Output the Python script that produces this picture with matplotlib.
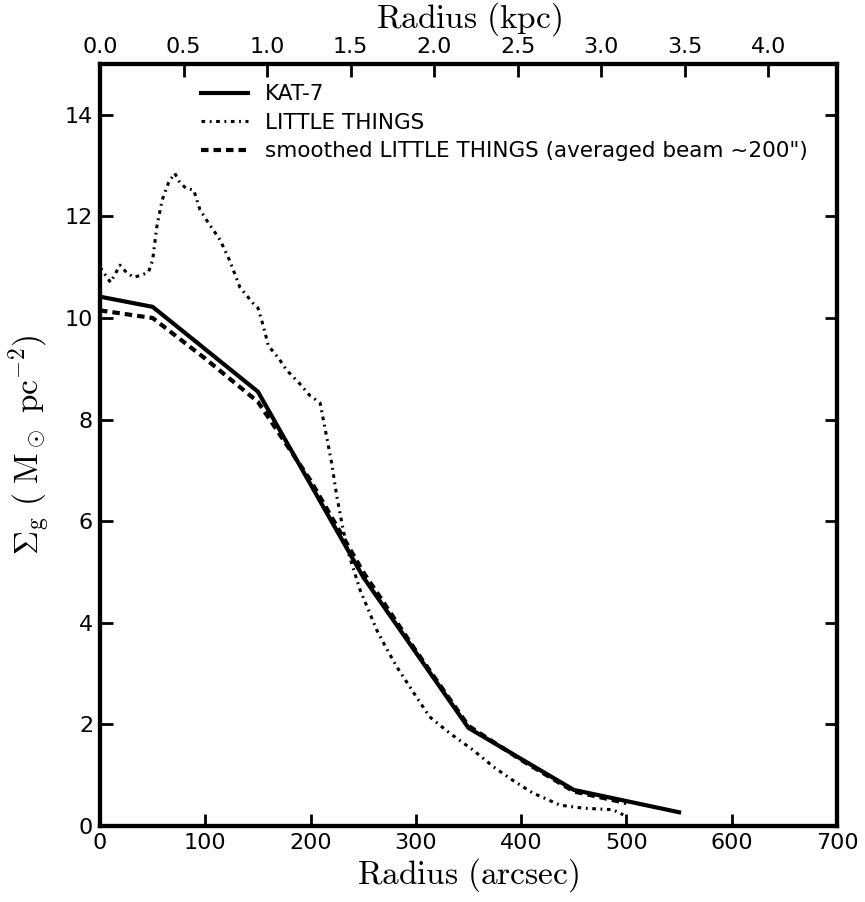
import matplotlib
matplotlib.use("Agg")
import matplotlib.pyplot as plt

plt.rcParams['mathtext.fontset'] = 'cm'

# distance used for the kpc axis (Mpc)
dist_mpc = 1.3

kat_r = [0, 50, 150, 250, 350, 450, 550]
kat_s = [10.42, 10.22, 8.55, 4.9, 1.93, 0.71, 0.27]

lt_r = [0, 5, 10, 19, 25, 32, 40, 46, 50, 54, 59, 65, 71, 76, 82, 89, 95,
        103, 114, 123, 133, 145, 150, 155, 160, 170, 177, 190, 199, 209, 214,
        220, 225, 231, 236, 247, 255, 263, 272, 282, 298, 313, 332, 354, 374,
        392, 411, 437, 459, 487, 497]
lt_s = [11.0, 10.85, 10.7, 11.04, 10.9, 10.8, 10.85, 10.9, 11.14, 11.8, 12.32,
        12.66, 12.85, 12.66, 12.55, 12.52, 12.13, 11.87, 11.54, 11.14, 10.6,
        10.3, 10.2, 9.85, 9.45, 9.2, 8.98, 8.7, 8.48, 8.33, 7.8, 7.15, 6.48,
        5.83, 5.37, 4.65, 4.25, 3.85, 3.5, 3.13, 2.62, 2.15, 1.83, 1.5, 1.16,
        0.9, 0.65, 0.41, 0.35, 0.32, 0.22]

sm_r = [0, 50, 100, 150, 200, 250, 300, 350, 400, 450, 500]
sm_s = [10.15, 10.0, 9.2, 8.35, 6.8, 5.0, 3.45, 1.97, 1.3, 0.68, 0.45]

kpc_ticks = [0.0, 0.5, 1.0, 1.5, 2.0, 2.5, 3.0, 3.5, 4.0]

fig = plt.figure(figsize=(8.65, 9.02), dpi=100)
ax = fig.add_axes([0.1156, 0.0843, 0.852, 0.8447])

ax.plot(kat_r, kat_s, color='k', lw=3, ls='-', label='KAT-7')
ax.plot(lt_r, lt_s, color='k', lw=2.2, ls=(0, (1.2, 1.5, 0.6, 1.5)),
        label='LITTLE THINGS')
ax.plot(sm_r, sm_s, color='k', lw=3, ls=(0, (1.8, 1.2)),
        label='smoothed LITTLE THINGS (averaged beam ~200")')

ax.set_xlim(0, 700)
ax.set_ylim(0, 15)
ax.set_xticks(range(0, 701, 100))
ax.set_yticks(range(0, 15, 2))
ax.tick_params(direction='in', length=9, width=2, labelsize=16,
               top=False, right=True, pad=5)
for s in ax.spines.values():
    s.set_linewidth(3)

ax.set_xlabel(r'$\mathrm{Radius\ (arcsec)}$', fontsize=24, labelpad=2)
ax.set_ylabel(r'$\Sigma_{\rm g}\ (\ \mathrm{M_\odot\ pc^{-2}})$', fontsize=24,
              labelpad=8)

ax2 = ax.twiny()
ax2.set_xlim(0, 700 * dist_mpc * 1000 / 206265.)
ax2.set_xticks(kpc_ticks)
ax2.set_xticklabels(['%.1f' % t for t in kpc_ticks])
ax2.tick_params(direction='in', length=9, width=2, labelsize=16, pad=5)
ax2.set_xlabel(r'$\mathrm{Radius\ (kpc)}$', fontsize=24, labelpad=7)
for s in ax2.spines.values():
    s.set_linewidth(3)

ax.legend(loc='upper left', bbox_to_anchor=(0.125, 0.985), frameon=False,
          fontsize=15.5, handlelength=2.2, handletextpad=0.8,
          labelspacing=0.4, borderaxespad=0)

fig.savefig('out.png', dpi=100)
